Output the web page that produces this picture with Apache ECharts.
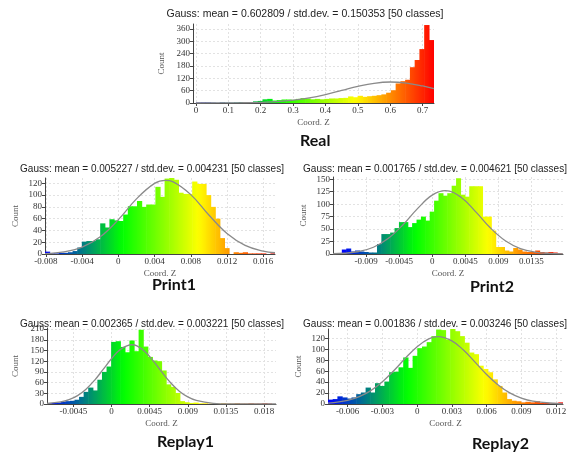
<!DOCTYPE html>
<html><head><meta charset="utf-8">
<script src="https://cdn.jsdelivr.net/npm/echarts@6/dist/echarts.min.js"></script>
<style>html,body{margin:0;padding:0;background:#fff}#c{width:571px;height:454px}</style>
</head><body><div id="c"></div>
<script>
// ---------- data ----------
const panelNames = ['Real', 'Print1', 'Print2', 'Replay1', 'Replay2'];
const titleTexts = [
  'Gauss: mean = 0.602809 / std.dev. = 0.150353 [50 classes]',
  'Gauss: mean = 0.005227 / std.dev. = 0.004231 [50 classes]',
  'Gauss: mean = 0.001765 / std.dev. = 0.004621 [50 classes]',
  'Gauss: mean = 0.002365 / std.dev. = 0.003221 [50 classes]',
  'Gauss: mean = 0.001836 / std.dev. = 0.003246 [50 classes]'
];

const realCounts = [2,3,3,2,1,3,2,2,3,5, 4,5,8,10,18,20,12,14,17,17, 15,20,24,22,18,20,18,20,22,22, 24,25,32,28,35,30,33,35,38,42, 50,62,95,106,113,174,209,262,379,306];
const print1Counts = [4,1,1,2,2,3,5,11,21,22, 22,25,52,45,59,57,56,67,81,81, 90,80,84,84,114,97,128,129,126,104, 102,102,123,119,119,100,80,60,27,10, 0,3,2,3,1,1,1,1,0,1];
const print2Counts = [9,11,5,7,5,4,3,3,20,40, 40,43,52,64,64,54,62,69,75,67, 85,107,122,117,122,137,152,119,115,136, 136,136,75,75,47,14,14,7,5,12, 9,5,4,4,7,4,3,4,3,1];
const replay1Counts = [2,3,4,6,8,9,12,20,34,46, 38,68,90,105,174,176,160,145,178,148, 208,161,132,122,120,94,55,48,31,8, 5,3,4,2,2,1,1,1,2,1, 1,2,1,1,2,1,1,2,1,0];
const replay2Counts = [8,9,14,12,10,12,18,21,30,21, 38,33,41,58,59,67,85,66,88,102, 105,113,124,136,135,118,138,133,124,112, 94,91,70,64,58,45,33,21,9,6, 5,3,4,3,5,2,2,1,2,3];

// histogram range (first bin start, last bin end)
const realBinRange = [0, 0.734];
const print1BinRange = [-0.0081, 0.0173];
const print2BinRange = [-0.0123, 0.0176];
const replay1BinRange = [-0.0076, 0.0194];
const replay2BinRange = [-0.0077, 0.0126];

// fitted gauss curve points
const realCurveX = [0,0.1,0.15,0.2,0.25,0.3,0.35,0.4,0.45,0.5,0.55,0.6,0.65,0.7,0.735];
const realCurveY = [0,0.4,1.1,2.9,6.5,13.5,24.8,41.1,60.9,80.8,95.9,102,97.1,82.8,69.4];
const print1CurveX = [-0.0081,-0.006,-0.004,-0.002,0,0.002,0.004,0.0052,0.006,0.008,0.010,0.012,0.014,0.016,0.0173];
const print1CurveY = [0.8,3.7,11.6,29.1,58.3,93.5,119.8,125,122.9,100.8,66.2,34.7,14.6,4.9,2.1];
const print2CurveX = [-0.0135,-0.012,-0.010,-0.008,-0.006,-0.004,-0.002,0,0.0018,0.004,0.006,0.008,0.010,0.012,0.014,0.016,0.0178];
const print2CurveY = [0.5,1.5,5.0,13.6,31.0,58.3,91.1,118.1,127,113.0,83.5,51.1,26.0,10.9,3.8,1.1,0.3];
const replay1CurveX = [-0.0076,-0.006,-0.005,-0.004,-0.003,-0.002,-0.001,0,0.001,0.0024,0.003,0.004,0.005,0.006,0.007,0.008,0.009,0.010,0.012,0.014,0.0194];
const replay1CurveY = [1.4,5.7,12.2,23.6,41.5,66.3,96.2,126.8,151.7,166,162.8,145.9,118.8,87.8,58.9,35.9,19.9,10.0,1.9,0.2,0];
const replay2CurveX = [-0.0077,-0.006,-0.005,-0.004,-0.003,-0.002,-0.001,0,0.001,0.0018,0.003,0.004,0.005,0.006,0.007,0.008,0.009,0.010,0.012,0.0126];
const replay2CurveY = [1.7,6.7,13.4,24.4,40.5,61.2,84.0,104.8,119.0,123,115.3,98.5,76.5,54.0,34.7,20.3,10.8,5.2,0.9,0.4];

// tick labels
const realXTicks = [0,0.1,0.2,0.3,0.4,0.5,0.6,0.7];
const realYTicks = [0,60,120,180,240,300,360];
const print1XTicks = [-0.008,-0.004,0,0.004,0.008,0.012,0.016];
const print1YTicks = [0,20,40,60,80,100,120];
const print2XTicks = [-0.009,-0.0045,0,0.0045,0.009,0.0135];
const print2YTicks = [0,25,50,75,100,125,150];
const replay1XTicks = [-0.0045,0,0.0045,0.009,0.0135,0.018];
const replay1YTicks = [0,30,60,90,120,150,180,210];
const replay2XTicks = [-0.006,-0.003,0,0.003,0.006,0.009,0.012];
const replay2YTicks = [0,20,40,60,80,100,120];

// ---------- layout ----------
const panels = [
  {counts: realCounts, bins: realBinRange, cx: realCurveX, cy: realCurveY, xt: realXTicks, yt: realYTicks,
   grid: {left:193, top:24, width:241, height:79}, xr: [-0.009, 0.735], ymax: 384, title: [300, 4, 10.5], label: [300, 133], ynameGap: 27},
  {counts: print1Counts, bins: print1BinRange, cx: print1CurveX, cy: print1CurveY, xt: print1XTicks, yt: print1YTicks,
   grid: {left:45, top:178, width:230, height:76}, xr: [-0.0081, 0.0173], ymax: 129, title: [147, 159, 10], label: [152, 277], ynameGap: 25},
  {counts: print2Counts, bins: print2BinRange, cx: print2CurveX, cy: print2CurveY, xt: print2XTicks, yt: print2YTicks,
   grid: {left:333, top:177, width:230, height:77}, xr: [-0.0135, 0.0178], ymax: 154.5, title: [430, 159, 10], label: [470, 279], ynameGap: 25},
  {counts: replay1Counts, bins: replay1BinRange, cx: replay1CurveX, cy: replay1CurveY, xt: replay1XTicks, yt: replay1YTicks,
   grid: {left:47, top:328, width:229, height:76}, xr: [-0.0076, 0.0194], ymax: 213, title: [147, 314, 10], label: [157, 434], ynameGap: 27},
  {counts: replay2Counts, bins: replay2BinRange, cx: replay2CurveX, cy: replay2CurveY, xt: replay2XTicks, yt: replay2YTicks,
   grid: {left:328, top:329, width:235, height:75}, xr: [-0.0077, 0.0126], ymax: 137, title: [430, 314, 10], label: [472, 436], ynameGap: 25}
];

const STOPS = [[0,[0,0,255]],[1/3,[0,255,0]],[2/3,[255,255,0]],[1,[255,0,0]]];
function cmap(t) {
  t = Math.max(0, Math.min(1, t));
  for (let k = 1; k < STOPS.length; k++) {
    if (t <= STOPS[k][0]) {
      const a = STOPS[k-1], b = STOPS[k];
      const f = (t - a[0]) / (b[0] - a[0]);
      const c = a[1].map((v, j) => Math.round(v + (b[1][j] - v) * f));
      return 'rgb(' + c.join(',') + ')';
    }
  }
  return 'rgb(255,0,0)';
}

const axisFont = 'Liberation Serif';
const fmt = v => String(Number((+v).toFixed(6)));

const option = {
  animation: false,
  backgroundColor: '#fff',
  title: [], grid: [], xAxis: [], yAxis: [], series: [], graphic: []
};

panels.forEach((p, i) => {
  option.title.push({
    text: titleTexts[i], left: p.title[0], top: p.title[1], textAlign: 'center',
    textStyle: {fontFamily: 'Liberation Sans', fontSize: p.title[2], fontWeight: 'normal', color: '#222'}
  });
  option.graphic.push({
    type: 'text', left: p.label[0], top: p.label[1],
    style: {text: panelNames[i], font: 'bold 16px Lato', fill: '#111', textAlign: 'center'}
  });
  option.grid.push(Object.assign({containLabel: false}, p.grid));
  option.xAxis.push({
    type: 'value', gridIndex: i, min: p.xr[0], max: p.xr[1],
    name: 'Coord. Z', nameLocation: 'middle', nameGap: 15,
    nameTextStyle: {fontFamily: axisFont, fontSize: 9, color: '#555'},
    axisLine: {show: true, onZero: false, lineStyle: {color: '#444', width: 1}},
    axisTick: {show: true, length: 3, customValues: p.xt, lineStyle: {color: '#444'}},
    axisLabel: {customValues: p.xt, formatter: fmt, fontFamily: axisFont, fontSize: 9, color: '#333', margin: 3},
    splitLine: {show: true, lineStyle: {color: '#e2e2e2', type: [2, 2]}}
  });
  option.yAxis.push({
    type: 'value', gridIndex: i, min: 0, max: p.ymax,
    name: 'Count', nameLocation: 'middle', nameGap: p.ynameGap, nameRotate: 90,
    nameTextStyle: {fontFamily: axisFont, fontSize: 9, color: '#555'},
    axisLine: {show: true, onZero: false, lineStyle: {color: '#444', width: 1}},
    axisTick: {show: true, length: 3, customValues: p.yt, lineStyle: {color: '#444'}},
    axisLabel: {customValues: p.yt, formatter: fmt, fontFamily: axisFont, fontSize: 9, color: '#333', margin: 3},
    splitLine: {show: true, lineStyle: {color: '#e2e2e2', type: [2, 2]}}
  });
  const n = p.counts.length;
  const w = (p.bins[1] - p.bins[0]) / n;
  const data = p.counts.map((c, k) => [p.bins[0] + k * w, p.bins[0] + (k + 1) * w, c]);
  option.series.push({
    type: 'custom', xAxisIndex: i, yAxisIndex: i, clip: true, data: data,
    encode: {x: [0, 1], y: 2},
    renderItem: function (params, api) {
      const k = params.dataIndex;
      const a = api.coord([api.value(0), api.value(2)]);
      const b = api.coord([api.value(1), 0]);
      const fill = new echarts.graphic.LinearGradient(0, 0, 1, 0, [
        {offset: 0, color: cmap(k / n)}, {offset: 1, color: cmap((k + 1) / n)}
      ]);
      return {type: 'rect', shape: {x: a[0], y: a[1], width: b[0] - a[0] + 0.6, height: b[1] - a[1]},
              style: {fill: fill}};
    }
  });
  option.series.push({
    type: 'line', xAxisIndex: i, yAxisIndex: i, clip: true, smooth: 0.4,
    showSymbol: false, symbol: 'none', z: 5,
    data: p.cx.map((x, k) => [x, p.cy[k]]),
    lineStyle: {color: '#8a8a8a', width: 1.3}
  });
});

const chart = echarts.init(document.getElementById('c'), null, {renderer: 'canvas'});
chart.setOption(option);
</script>
</body></html>
